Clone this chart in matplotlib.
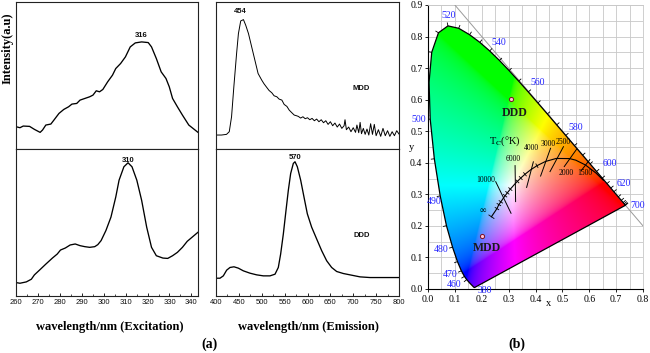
import numpy as np
import matplotlib
matplotlib.use("Agg")
import matplotlib.pyplot as plt
from matplotlib.patches import Polygon
from matplotlib.collections import LineCollection
from matplotlib.ticker import MultipleLocator

SERIF = "Liberation Serif"
SANS = "Liberation Sans"
plt.rcParams["font.family"] = [SANS, "DejaVu Sans"]
plt.rcParams["mathtext.fontset"] = "stix"

# ---------------- (a) spectra, intensities in a.u. ----------------
exc_mdd_nm = [260, 261.8, 263.3, 266.2, 268.4, 271.0, 272.1, 273.6, 275.9, 277.3, 279.6, 281.8,
              284.0, 285.5, 287.7, 289.2, 291.4, 293.6, 295.1, 296.6, 298.1, 299.6, 301.8, 304.0,
              305.5, 307.7, 309.9, 312.1, 314.4, 317.3, 320.3, 321.8, 324.0, 326.2, 328.4, 329.9,
              331.4, 333.6, 335.9, 338.8, 343.0]
exc_mdd_int = [67, 64, 69, 68, 59, 50, 57, 72, 75, 87, 107, 119, 127, 135, 137, 147, 152, 157, 162,
               175, 172, 179, 202, 222, 242, 257, 277, 307, 319, 322, 320, 307, 272, 232, 212, 187,
               152, 127, 102, 72, 50]

exc_ddd_nm = [260, 261.8, 264.7, 267.0, 268.4, 270.7, 273.6, 276.6, 278.8, 280.3, 282.5, 284.7,
              287.0, 289.2, 291.4, 293.6, 295.9, 297.3, 298.8, 301.0, 303.3, 305.5, 307.0, 309.2,
              311.1, 312.9, 315.1, 317.3, 319.6, 321.8, 324.0, 327.0, 329.2, 331.4, 333.6, 335.9,
              338.1, 343.0]
exc_ddd_int = [40, 38, 42, 50, 63, 77, 95, 113, 125, 137, 143, 152, 155, 150, 147, 145, 147, 153,
               165, 195, 235, 295, 345, 385, 397, 385, 345, 285, 205, 145, 120, 113, 112, 120, 130,
               145, 163, 190]

em_mdd_nm = [400, 412, 423, 429, 434, 439, 445, 449, 454, 460, 465, 471, 478, 485, 492, 500, 505,
             511, 516, 522, 527, 533, 538, 544, 549, 555, 560, 565, 571, 576,
             580, 585, 590, 595, 600, 605, 610, 615, 620, 625, 630, 635, 640, 645, 650, 655, 660,
             665, 670, 675, 680, 682, 685, 690, 695, 700, 705, 708, 712, 715, 718, 722, 726, 730,
             734, 738, 742, 746, 750, 755, 760, 765, 770, 775, 780, 785, 790, 795, 800]
em_mdd_int = [42, 42, 44, 52, 97, 187, 287, 347, 385, 389, 372, 347, 307, 267, 227, 207, 196, 185,
              176, 169, 160, 157, 150, 147, 134, 128, 117, 110, 102, 100,
              98, 93, 97, 91, 94, 88, 92, 85, 90, 82, 88, 79, 85, 74, 82, 70, 78, 66, 75, 62, 70,
              88, 58, 66, 52, 64, 50, 72, 49, 80, 46, 62, 44, 60, 42, 76, 44, 74, 40, 58, 38, 62,
              40, 55, 38, 52, 40, 55, 45]

em_ddd_nm = [400, 408.7, 416.0, 423.3, 430.6, 439.3, 448.8, 459.7, 474.3, 488.9, 503.5, 518.0,
             529.0, 536.2, 541.3, 547.2, 553.0, 558.1, 563.2, 569.0, 572.7, 577.8, 585.1, 592.3,
             599.6, 609.1, 620.0, 631.0, 641.9, 652.8, 663.8, 678.3, 692.9, 714.8, 736.6, 765.7,
             800]
em_ddd_int = [53, 53, 60, 77, 85, 87, 83, 75, 68, 63, 60, 60, 65, 85, 125, 185, 255, 315, 365, 395,
              400, 385, 345, 295, 245, 205, 170, 135, 105, 85, 73, 67, 63, 57, 55, 55, 55]

# ---------------- (b) CIE 1931 chromaticity ----------------
loc_nm = [380, 390, 400, 410, 420, 430, 440, 450, 460, 465, 470, 475, 480, 485, 490, 495, 500,
          505, 510, 515, 520, 525, 530, 535, 540, 545, 550, 555, 560, 565, 570, 575, 580, 585,
          590, 595, 600, 605, 610, 615, 620, 630, 640, 650, 660, 680, 700]
loc_x = [0.1741, 0.1738, 0.1733, 0.1726, 0.1714, 0.1689, 0.1644, 0.1566, 0.1440, 0.1355, 0.1241,
         0.1096, 0.0913, 0.0687, 0.0454, 0.0235, 0.0082, 0.0039, 0.0139, 0.0389, 0.0743, 0.1142,
         0.1547, 0.1929, 0.2296, 0.2658, 0.3016, 0.3373, 0.3731, 0.4087, 0.4441, 0.4788, 0.5125,
         0.5448, 0.5752, 0.6029, 0.6270, 0.6482, 0.6658, 0.6801, 0.6915, 0.7079, 0.7190, 0.7260,
         0.7300, 0.7334, 0.7347]
loc_y = [0.0050, 0.0049, 0.0048, 0.0048, 0.0051, 0.0069, 0.0109, 0.0177, 0.0297, 0.0399, 0.0578,
         0.0868, 0.1327, 0.2007, 0.2950, 0.4127, 0.5384, 0.6548, 0.7502, 0.8120, 0.8338, 0.8262,
         0.8059, 0.7816, 0.7543, 0.7243, 0.6923, 0.6589, 0.6245, 0.5896, 0.5547, 0.5202, 0.4866,
         0.4544, 0.4242, 0.3965, 0.3725, 0.3514, 0.3340, 0.3197, 0.3083, 0.2920, 0.2809, 0.2740,
         0.2700, 0.2666, 0.2653]

wl_labels = ["380", "460", "470", "480", "490", "500", "520", "540", "560", "580", "600", "620", "700"]
wl_lab_x = [0.212, 0.098, 0.082, 0.048, 0.022, -0.036, 0.076, 0.262, 0.408, 0.548, 0.677, 0.727, 0.781]
wl_lab_y = [-0.004, 0.014, 0.047, 0.126, 0.276, 0.538, 0.866, 0.782, 0.654, 0.512, 0.398, 0.335, 0.264]

# Planckian locus
pl_T = ["inf", 20000, 15000, 12000, 10000, 9000, 8000, 7000, 6000, 5500, 5000, 4500, 4000, 3500,
        3000, 2500, 2000, 1800, 1500, 1200, 1000]
pl_x = [0.236, 0.2565, 0.2637, 0.2710, 0.2807, 0.2869, 0.2952, 0.3064, 0.3221, 0.3325, 0.3451,
        0.3608, 0.3805, 0.4053, 0.4369, 0.4770, 0.5267, 0.5497, 0.5857, 0.6251, 0.6528]
pl_y = [0.229, 0.2548, 0.2675, 0.2762, 0.2883, 0.2956, 0.3048, 0.3166, 0.3318, 0.3411, 0.3516,
        0.3636, 0.3768, 0.3907, 0.4041, 0.4137, 0.4133, 0.4083, 0.3931, 0.3674, 0.3444]
pl_small_ticks = ["inf", 20000, 15000, 12000, 9000, 8000, 7000, 5500, 5000, 4500, 3500]

iso_T = ["10000", "6000", "4000", "3000", "2500", "2000", "1500"]
iso_x0 = [0.252, 0.324, 0.392, 0.456, 0.504, 0.553, 0.602]
iso_y0 = [0.340, 0.391, 0.403, 0.446, 0.451, 0.443, 0.410]
iso_x1 = [0.309, 0.326, 0.367, 0.419, 0.454, 0.507, 0.570]
iso_y1 = [0.240, 0.277, 0.322, 0.358, 0.372, 0.388, 0.375]
iso_lab_x = [0.216, 0.318, 0.386, 0.448, 0.504, 0.516, 0.584]
iso_lab_y = [0.345, 0.411, 0.446, 0.458, 0.467, 0.367, 0.367]

samples = ["DDD", "MDD"]
samp_x = [0.309, 0.202]
samp_y = [0.603, 0.169]
samp_lab_x = [0.324, 0.221]
samp_lab_y = [0.559, 0.129]

diag_x = [0.1, 0.8]

W, H = 650, 353
fig = plt.figure(figsize=(W / 100, H / 100), dpi=100)


def px_axes(left, top, right, bottom):
    return fig.add_axes([left / W, 1 - bottom / H, (right - left) / W, (bottom - top) / H])


def style_spec(ax, xlim, ylim, major, minor, labels):
    ax.set_xlim(*xlim)
    ax.set_ylim(*ylim)
    ax.set_yticks([])
    ax.xaxis.set_major_locator(MultipleLocator(major))
    ax.xaxis.set_minor_locator(MultipleLocator(minor))
    ax.tick_params(axis="x", which="major", direction="in", length=2.5, width=0.6,
                   labelsize=5.5, pad=2.5, labelcolor="#111111")
    ax.tick_params(axis="x", which="minor", direction="in", length=1.5, width=0.5)
    for sp in ax.spines.values():
        sp.set_linewidth(0.8)
        sp.set_color("#222222")
    if not labels:
        ax.tick_params(axis="x", which="both", bottom=False, labelbottom=False)


lw = 0.95
ax_et = px_axes(16, 2, 198, 149)
ax_eb = px_axes(16, 149, 198, 296)
ax_mt = px_axes(216, 2, 399, 149)
ax_mb = px_axes(216, 149, 399, 296)

ax_et.plot(exc_mdd_nm, exc_mdd_int, color="black", lw=lw)
ax_eb.plot(exc_ddd_nm, exc_ddd_int, color="black", lw=lw)
ax_mt.plot(em_mdd_nm, em_mdd_int, color="black", lw=0.7)
ax_mb.plot(em_ddd_nm, em_ddd_int, color="black", lw=lw)

style_spec(ax_et, (260, 343), (0, 442), 10, 5, False)
style_spec(ax_eb, (260, 343), (0, 438), 10, 5, True)
style_spec(ax_mt, (400, 800), (0, 442), 50, 25, False)
style_spec(ax_mb, (400, 800), (0, 438), 50, 25, True)

ann = dict(fontsize=5.5, fontweight="bold", ha="center", va="center", color="#111111")
ax_et.text(317.3, 342, "316", **ann)
ax_eb.text(311, 405, "310", **ann)
ax_mt.text(454, 412, "454", **ann)
ax_mt.text(718, 182, "MDD", **ann)
ax_mb.text(573, 413, "570", **ann)
ax_mb.text(718, 180, "DDD", **ann)

lab = dict(family=SERIF, fontweight="bold", fontsize=9, ha="center", va="center")
fig.text(8 / W, 1 - 48 / H, "Intensity(a.u)", rotation=90, **lab)
fig.text(110 / W, 1 - 327 / H, "wavelength/nm (Excitation)", **lab)
fig.text(308 / W, 1 - 327 / H, "wavelength/nm (Emission)", **lab)
fig.text(210 / W, 1 - 344 / H, "(a)", family=SERIF, fontweight="bold", fontsize=10,
         ha="center", va="center")
fig.text(517 / W, 1 - 344 / H, "(b)", family=SERIF, fontweight="bold", fontsize=10,
         ha="center", va="center")

# ---------------- CIE panel ----------------
ax = px_axes(428, 5, 643, 289)
ax.set_xlim(0, 0.8)
ax.set_ylim(0, 0.9)
ax.set_xticks(np.arange(0, 0.81, 0.1))
ax.set_yticks(np.arange(0, 0.91, 0.1))
ax.xaxis.set_minor_locator(MultipleLocator(0.05))
ax.yaxis.set_minor_locator(MultipleLocator(0.05))
ax.set_xticklabels([f"{v:.1f}" for v in np.arange(0, 0.81, 0.1)])
ax.set_yticklabels([f"{v:.1f}" for v in np.arange(0, 0.91, 0.1)])
for t in ax.get_xticklabels() + ax.get_yticklabels():
    t.set_fontfamily(SERIF)
    t.set_fontsize(7)
ax.tick_params(which="major", length=2, width=0.6, pad=2)
ax.tick_params(which="minor", length=0)
ax.grid(which="both", color="#c8c8c8", lw=0.6, zorder=0)
ax.set_axisbelow(True)
for s in ("top", "right"):
    ax.spines[s].set_color("#c8c8c8")
    ax.spines[s].set_linewidth(0.6)
for s in ("left", "bottom"):
    ax.spines[s].set_linewidth(0.8)
ax.text(0.45, -0.045, "x", family=SERIF, fontsize=7.5, ha="center", va="center", clip_on=False)
ax.text(-0.062, 0.45, "y", family=SERIF, fontsize=7.5, ha="center", va="center", clip_on=False)

# colour field inside the spectral locus
gx, gy = np.meshgrid(np.linspace(0, 0.8, 480), np.linspace(0, 0.9, 540))
gys = np.maximum(gy, 1e-3)
XYZ = np.stack([gx / gys, np.ones_like(gx), (1 - gx - gy) / gys], axis=-1)
M = np.array([[3.2406, -1.5372, -0.4986],
              [-0.9689, 1.8758, 0.0415],
              [0.0557, -0.2040, 1.0570]])
rgb = np.clip(XYZ @ M.T, 0, None)
rgb = rgb / (rgb.max(axis=-1, keepdims=True) + 1e-9)
rgb = np.where(rgb <= 0.0031308, 12.92 * rgb, 1.055 * rgb ** (1 / 2.4) - 0.055)
rgb = np.clip(rgb, 0, 1)

locus = Polygon(np.column_stack([loc_x, loc_y]), closed=True, facecolor="none",
                edgecolor="black", lw=0.9, zorder=4)
ax.add_patch(locus)
im = ax.imshow(rgb, extent=(0, 0.8, 0, 0.9), origin="lower", aspect="auto",
               interpolation="bilinear", zorder=2)
im.set_clip_path(locus)

ax.plot(diag_x, [1 - v for v in diag_x], color="#9a9a9a", lw=0.7, zorder=3)

# ticks on the spectral locus, pointing outward
to_px = ax.transData
pts = to_px.transform(np.column_stack([loc_x, loc_y]))
segs = []
for i, nm in enumerate(loc_nm):
    if nm < 460:
        continue
    j0, j1 = max(i - 1, 0), min(i + 1, len(loc_nm) - 1)
    t = pts[j1] - pts[j0]
    t = t / np.hypot(*t)
    n = np.array([-t[1], t[0]])
    a, b = pts[i], pts[i] + n * 3.5
    segs.append(to_px.inverted().transform([a, b]))
ax.add_collection(LineCollection(segs, colors="black", lw=0.6, zorder=5))

for lab_txt, lx, ly in zip(wl_labels, wl_lab_x, wl_lab_y):
    ax.text(lx, ly, lab_txt, family=SERIF, fontsize=7, color="#2424ff", ha="center",
            va="center", clip_on=False, zorder=6)

# Planckian locus
ax.plot(pl_x, pl_y, color="black", lw=0.8, zorder=5)
ppts = to_px.transform(np.column_stack([pl_x, pl_y]))
psegs = []
for i, T in enumerate(pl_T):
    if T not in pl_small_ticks:
        continue
    j0, j1 = max(i - 1, 0), min(i + 1, len(pl_T) - 1)
    t = ppts[j1] - ppts[j0]
    t = t / np.hypot(*t)
    n = np.array([-t[1], t[0]])
    half = 3.5 if T == "inf" else 2.5
    psegs.append(to_px.inverted().transform([ppts[i] - n * half, ppts[i] + n * half]))
ax.add_collection(LineCollection(psegs, colors="black", lw=0.6, zorder=5))

for x0, y0, x1, y1 in zip(iso_x0, iso_y0, iso_x1, iso_y1):
    ax.plot([x0, x1], [y0, y1], color="black", lw=0.7, zorder=5)
for txt, lx, ly in zip(iso_T, iso_lab_x, iso_lab_y):
    ax.text(lx, ly, txt, family=SERIF, fontsize=5.5, ha="center", va="center", zorder=6)
ax.text(0.203, 0.248, "\u221e", family=SERIF, fontsize=6.5, ha="center", va="center", zorder=6)
ax.text(0.287, 0.467, r"T$_\mathrm{C}$(°K)", family=SERIF, fontsize=7.5, ha="center",
        va="center", zorder=6)

for name, sx, sy, lx, ly in zip(samples, samp_x, samp_y, samp_lab_x, samp_lab_y):
    ax.plot(sx, sy, "o", ms=3, mfc="#ffc0d8", mec="#7a1020", mew=0.7, zorder=7)
    ax.text(lx, ly, name, family=SERIF, fontweight="bold", fontsize=8.5, color="#1a1a1a",
            ha="center", va="center", zorder=7)

fig.savefig("out.png", dpi=100)
